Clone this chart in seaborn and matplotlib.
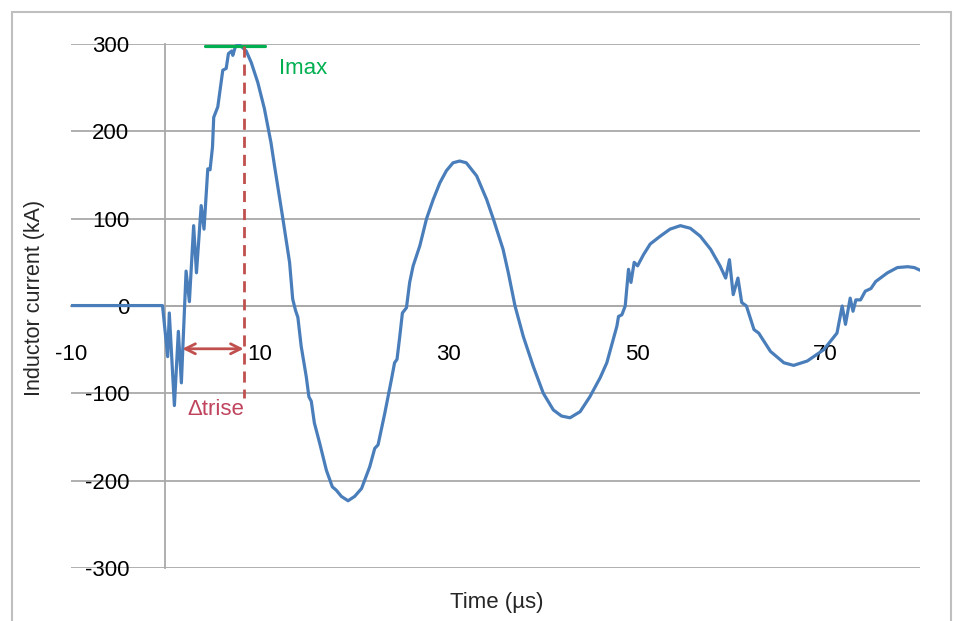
import matplotlib
matplotlib.use('Agg')
import matplotlib.pyplot as plt
from matplotlib.patches import Rectangle
import seaborn as sns

# inductor current trace
time_us = [-10, -0.3, 0.25, 0.42, 0.96, 1.38, 1.7, 2.2, 2.55, 3.0, 3.3, 3.8, 4.1, 4.5, 4.74, 5.0,
           5.13, 5.56, 6.09, 6.45, 6.69, 7.04, 7.15, 7.4, 7.68, 7.97, 8.57, 9.1, 9.8, 10.5, 11.2,
           11.58, 12.46, 13.17, 13.5, 13.8, 14.05, 14.4, 14.94, 15.22, 15.47, 15.8, 16.36, 17.07,
           17.7, 18.13, 18.66, 19.37, 20.07, 20.8, 21.67, 22.2, 22.55, 23.26, 23.97, 24.3, 24.56,
           24.85, 25.13, 25.56, 25.9, 26.27, 26.98, 27.69, 28.4, 29.1, 29.8, 30.5, 31.2, 31.9,
           33.0, 34.06, 34.76, 35.8, 36.36, 37.07, 37.95, 39.0, 40.07, 41.13, 42.0, 42.9, 43.97,
           45.0, 46.1, 46.8, 47.87, 48.04, 48.4, 48.75, 49.1, 49.36, 49.7, 50.06, 50.7, 51.4,
           52.47, 53.5, 54.6, 55.65, 56.7, 57.8, 58.8, 59.4, 59.8, 60.2, 60.7, 61.1, 61.6, 62.4,
           62.9, 64.15, 65.57, 66.6, 68.05, 69.8, 71.2, 71.75, 72.1, 72.6, 72.9, 73.2, 73.7, 74.2,
           74.8, 75.3, 76.55, 77.6, 78.7, 79.4, 80.0]
current_ka = [0.5, 0.5, -58, -8, -114, -29, -88, 40, 5, 92, 38, 115, 88, 157, 156, 182,
              216, 228, 270, 272, 289, 292, 287, 296, 300, 298, 292, 279, 256, 226, 187,
              160, 100, 50, 8, -5, -13, -46, -81, -104, -109, -134, -157, -188,
              -207, -211, -218, -223, -218, -209, -184, -163, -159, -123, -84, -65, -61,
              -35, -8, -2, 27, 46, 69, 100, 122, 141, 155, 164, 166, 164,
              149, 122, 100, 65, 38, 0, -35, -69, -100, -119, -126, -128, -121,
              -104, -82, -65, -23, -12, -10, 0, 42, 27, 50, 46, 59, 71,
              80, 88, 92, 89, 80, 65, 46, 32, 53, 13, 32, 4, 0, -27,
              -31, -52, -65, -68, -63, -50, -31, 0, -21, 9, -6, 7, 7, 17,
              20, 28, 38, 44, 45, 44, 41]

x_ticks = [-10, 10, 30, 50, 70]
y_ticks = [-300, -200, -100, 0, 100, 200, 300]

# annotation values
i_max = 298
imax_from, imax_to = 4.25, 10.6
t_peak = 8.3
t_start = 1.8
arrow_y = -49
dash_bottom = -105

sns.set_style('white')
plt.rcParams['font.family'] = ['Liberation Sans', 'DejaVu Sans']
plt.rcParams['axes.unicode_minus'] = False

grey = '#A9A9A9'
blue = '#4A7EBB'
red = '#C0504D'
fs = 16

fig = plt.figure(figsize=(9.55, 6.21), dpi=100)
ax = fig.add_axes([71 / 955, 53 / 621, 849 / 955, 524 / 621])

sns.lineplot(x=time_us, y=current_ka, color=blue, linewidth=2.3, ax=ax, zorder=3)

ax.set_xlim(-10, 80)
ax.set_ylim(-300, 300)
ax.set_xticks(x_ticks)
ax.set_yticks(y_ticks)
ax.yaxis.grid(True, color=grey, linewidth=1.3)
ax.xaxis.grid(False)

for s in ['top', 'right']:
    ax.spines[s].set_visible(False)
ax.spines['left'].set_position(('data', 0))
ax.spines['bottom'].set_position(('data', 0))
for s in ['left', 'bottom']:
    ax.spines[s].set_color(grey)
    ax.spines[s].set_linewidth(1.3)

ax.tick_params(axis='x', direction='out', length=7, width=1.3, color=grey,
               pad=20, labelsize=fs, labelcolor='black')
ax.tick_params(axis='y', length=0, pad=26, labelsize=fs, labelcolor='black')

ax.set_xlabel('Time (µs)', fontsize=fs)
ax.xaxis.set_label_coords(0.502, -0.045)
ax.set_ylabel('Inductor current (kA)', fontsize=15.5)
ax.yaxis.set_label_coords(-0.031, 0.515)

# Imax marker
ax.plot([imax_from, imax_to], [i_max, i_max], color='#00B050', linewidth=2.3, zorder=4)
ax.text(12.1, 272, 'Imax', color='#00B050', fontsize=fs, va='center', ha='left')

# rise time marker
ax.plot([t_peak, t_peak], [i_max, dash_bottom], color=red, linewidth=2,
        linestyle=(0, (4, 2.5)), zorder=4)
ax.annotate('', xy=(t_start, arrow_y), xytext=(t_peak, arrow_y),
            arrowprops=dict(arrowstyle='<->', color=red, lw=2, mutation_scale=18,
                            shrinkA=0, shrinkB=0), zorder=4)
ax.text(5.3, -119, 'Δtrise', color='#C0445E', fontsize=fs, va='center', ha='center')

fig.patches.append(Rectangle((12 / 955, -0.05), 939 / 955, 609 / 621 + 0.05,
                             transform=fig.transFigure, fill=False,
                             edgecolor='#BFBFBF', linewidth=1.5))

fig.savefig('out.png', dpi=100)
